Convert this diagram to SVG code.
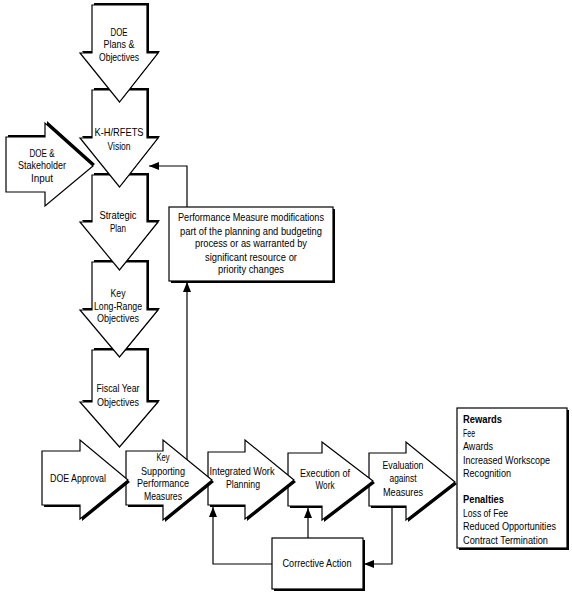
<svg xmlns="http://www.w3.org/2000/svg" width="572" height="594" viewBox="0 0 572 594">
<style>
.bg{fill:#fff}
.sh{fill:#000}
.nd{fill:#fff;stroke:#000;stroke-width:1.2}
.t{font-family:"Liberation Sans",Arial,sans-serif;font-size:11px;fill:#000;text-anchor:middle}
.l{font-family:"Liberation Sans",Arial,sans-serif;font-size:10px;fill:#000}
.b{font-weight:bold}
.c{fill:none;stroke:#000;stroke-width:1.2}
</style>
<defs>
<marker id="ah" markerUnits="userSpaceOnUse" markerWidth="10" markerHeight="8" refX="10" refY="4" orient="auto">
<path d="M0,0 L10,4 L0,8 z" fill="#000"/>
</marker>
</defs>
<rect class="bg" x="0" y="0" width="572" height="594"/>
<g id="connectors">
<path class="c" d="M392,506 V564 H364" marker-end="url(#ah)"/>
<path class="c" d="M272,564 H213 V507" marker-end="url(#ah)"/>
<path class="c" d="M308,538 V508" marker-end="url(#ah)"/>
<path class="c" d="M187,464 V282" marker-end="url(#ah)"/>
<path class="c" d="M187,207 V166 H149" marker-end="url(#ah)"/>
</g>
<g id="fiscal">
<polygon class="sh" transform="translate(2,-2)" points="92,350 147,350 147,402 158,402 119.5,447 80,402 92,402"/>
<polygon class="nd" points="92,350 147,350 147,402 158,402 119.5,447 80,402 92,402"/>
<text class="t" x="118" y="392" textLength="43" lengthAdjust="spacingAndGlyphs">Fiscal Year</text>
<text class="t" x="118" y="406" textLength="42" lengthAdjust="spacingAndGlyphs">Objectives</text>
</g>
<g id="longrange">
<polygon class="sh" transform="translate(2,-2)" points="92,262 147,262 147,310 158,310 119.5,357 80,310 92,310"/>
<polygon class="nd" points="92,262 147,262 147,310 158,310 119.5,357 80,310 92,310"/>
<text class="t" x="118" y="297" textLength="15" lengthAdjust="spacingAndGlyphs">Key</text>
<text class="t" x="118" y="310" textLength="48" lengthAdjust="spacingAndGlyphs">Long-Range</text>
<text class="t" x="118" y="322" textLength="42" lengthAdjust="spacingAndGlyphs">Objectives</text>
</g>
<g id="strategic">
<polygon class="sh" transform="translate(2,-2)" points="92,175 147,175 147,222 158,222 119.5,270 80,222 92,222"/>
<polygon class="nd" points="92,175 147,175 147,222 158,222 119.5,270 80,222 92,222"/>
<text class="t" x="118" y="219" textLength="37" lengthAdjust="spacingAndGlyphs">Strategic</text>
<text class="t" x="118" y="232" textLength="16" lengthAdjust="spacingAndGlyphs">Plan</text>
</g>
<g id="vision">
<polygon class="sh" transform="translate(2,-2)" points="92,90 147,90 147,138 158,138 119.5,187 80,138 92,138"/>
<polygon class="nd" points="92,90 147,90 147,138 158,138 119.5,187 80,138 92,138"/>
<text class="t" x="119" y="136" textLength="49" lengthAdjust="spacingAndGlyphs">K-H/RFETS</text>
<text class="t" x="119" y="150" textLength="23" lengthAdjust="spacingAndGlyphs">Vision</text>
</g>
<g id="plans">
<polygon class="sh" transform="translate(2,-2)" points="92,5 147,5 147,53 158,53 119.5,102 80,53 92,53"/>
<polygon class="nd" points="92,5 147,5 147,53 158,53 119.5,102 80,53 92,53"/>
<text class="t" x="119" y="36" textLength="17" lengthAdjust="spacingAndGlyphs">DOE</text>
<text class="t" x="119" y="48" textLength="31" lengthAdjust="spacingAndGlyphs">Plans &amp;</text>
<text class="t" x="119" y="61" textLength="40" lengthAdjust="spacingAndGlyphs">Objectives</text>
</g>
<g id="stakeholder">
<polygon class="sh" transform="translate(2,-2)" points="6,137 45,137 45,123 93,166 45,206 45,192 6,192"/>
<polygon class="nd" points="6,137 45,137 45,123 93,166 45,206 45,192 6,192"/>
<text class="t" x="42" y="157" textLength="25" lengthAdjust="spacingAndGlyphs">DOE &amp;</text>
<text class="t" x="42" y="169" textLength="48" lengthAdjust="spacingAndGlyphs">Stakeholder</text>
<text class="t" x="42" y="182" textLength="22" lengthAdjust="spacingAndGlyphs">Input</text>
</g>
<g id="modbox">
<rect class="sh" x="171" y="209" width="164" height="74"/>
<rect class="nd" x="169" y="207" width="164" height="74"/>
<text class="t" x="251" y="221" textLength="146" lengthAdjust="spacingAndGlyphs">Performance Measure modifications</text>
<text class="t" x="251" y="235" textLength="142" lengthAdjust="spacingAndGlyphs">part of the planning and budgeting</text>
<text class="t" x="251" y="247" textLength="112" lengthAdjust="spacingAndGlyphs">process or as warranted by</text>
<text class="t" x="251" y="261" textLength="92" lengthAdjust="spacingAndGlyphs">significant resource or</text>
<text class="t" x="251" y="273" textLength="66" lengthAdjust="spacingAndGlyphs">priority changes</text>
</g>
<g id="evaluation">
<polygon class="sh" transform="translate(2,2)" points="369,453 406,453 406,442 455,482 406,520 406,506 369,506"/>
<polygon class="nd" points="369,453 406,453 406,442 455,482 406,520 406,506 369,506"/>
<text class="t" x="403" y="469" textLength="41" lengthAdjust="spacingAndGlyphs">Evaluation</text>
<text class="t" x="403" y="482" textLength="27" lengthAdjust="spacingAndGlyphs">against</text>
<text class="t" x="403" y="496" textLength="40" lengthAdjust="spacingAndGlyphs">Measures</text>
</g>
<g id="execution">
<polygon class="sh" transform="translate(2,2)" points="288,453 322,453 322,442 373,481 322,520 322,506 288,506"/>
<polygon class="nd" points="288,453 322,453 322,442 373,481 322,520 322,506 288,506"/>
<text class="t" x="325" y="477" textLength="50" lengthAdjust="spacingAndGlyphs">Execution of</text>
<text class="t" x="325" y="489" textLength="19" lengthAdjust="spacingAndGlyphs">Work</text>
</g>
<g id="integrated">
<polygon class="sh" transform="translate(2,2)" points="208,452 245,452 245,440 294,480 245,519 245,505 208,505"/>
<polygon class="nd" points="208,452 245,452 245,440 294,480 245,519 245,505 208,505"/>
<text class="t" x="242" y="475" textLength="65" lengthAdjust="spacingAndGlyphs">Integrated Work</text>
<text class="t" x="243" y="488" textLength="34" lengthAdjust="spacingAndGlyphs">Planning</text>
</g>
<g id="keysupporting">
<polygon class="sh" transform="translate(2,2)" points="126,451 163,451 163,440 212,480 163,520 163,505 126,505"/>
<polygon class="nd" points="126,451 163,451 163,440 212,480 163,520 163,505 126,505"/>
<text class="t" x="163" y="461" textLength="13" lengthAdjust="spacingAndGlyphs">Key</text>
<text class="t" x="163" y="475" textLength="44" lengthAdjust="spacingAndGlyphs">Supporting</text>
<text class="t" x="163" y="487" textLength="52" lengthAdjust="spacingAndGlyphs">Performance</text>
<text class="t" x="163" y="500" textLength="38" lengthAdjust="spacingAndGlyphs">Measures</text>
</g>
<g id="doeapproval">
<polygon class="sh" transform="translate(2,2)" points="42,451 80,451 80,440 128,480 80,519 80,505 42,505"/>
<polygon class="nd" points="42,451 80,451 80,440 128,480 80,519 80,505 42,505"/>
<text class="t" x="78" y="482" textLength="56" lengthAdjust="spacingAndGlyphs">DOE Approval</text>
</g>
<g id="rewards">
<rect class="sh" x="459" y="410" width="110" height="140"/>
<rect class="nd" x="457" y="408" width="110" height="140"/>
<text class="l b" x="463" y="423" textLength="39" lengthAdjust="spacingAndGlyphs">Rewards</text>
<text class="l" x="463" y="436.5" textLength="12" lengthAdjust="spacingAndGlyphs">Fee</text>
<text class="l" x="463" y="450" textLength="30" lengthAdjust="spacingAndGlyphs">Awards</text>
<text class="l" x="463" y="463.5" textLength="87" lengthAdjust="spacingAndGlyphs">Increased Workscope</text>
<text class="l" x="463" y="477" textLength="48" lengthAdjust="spacingAndGlyphs">Recognition</text>
<text class="l b" x="463" y="503" textLength="41" lengthAdjust="spacingAndGlyphs">Penalties</text>
<text class="l" x="463" y="516.5" textLength="45" lengthAdjust="spacingAndGlyphs">Loss of Fee</text>
<text class="l" x="463" y="530" textLength="93" lengthAdjust="spacingAndGlyphs">Reduced Opportunities</text>
<text class="l" x="463" y="543.5" textLength="85" lengthAdjust="spacingAndGlyphs">Contract Termination</text>
</g>
<g id="corrective">
<rect class="sh" x="274" y="540" width="91" height="51"/>
<rect class="nd" x="272" y="538" width="91" height="51"/>
<text class="t" x="317" y="567" textLength="69" lengthAdjust="spacingAndGlyphs">Corrective Action</text>
</g>
</svg>
